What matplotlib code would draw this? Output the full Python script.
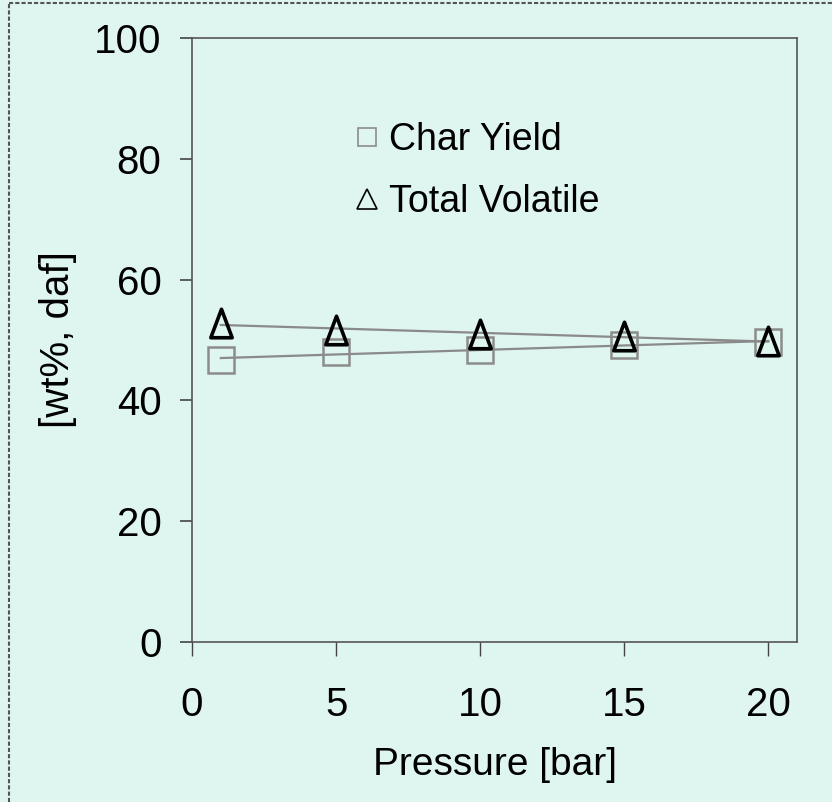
import numpy as np
import matplotlib
matplotlib.use("Agg")
import matplotlib.pyplot as plt
from matplotlib.lines import Line2D
from matplotlib.path import Path

pressure = [1, 5, 10, 15, 20]
char_yield = [46.7, 48.0, 48.3, 49.2, 49.7]
total_volatile = [52.8, 51.6, 51.0, 50.6, 49.8]
series_labels = ["Char Yield", "Total Volatile"]
x_ticks = [0, 5, 10, 15, 20]
y_ticks = [0, 20, 40, 60, 80, 100]

plt.rcParams['font.family'] = ['Liberation Sans', 'DejaVu Sans']

bg = '#dff5f0'
fig = plt.figure(figsize=(8.32, 8.02), dpi=100, facecolor=bg)
ax = fig.add_axes([0.2308, 0.1995, 0.7272, 0.7531])
ax.set_facecolor(bg)

tri = Path([(0, 1), (-0.75, -1), (0.75, -1), (0, 1)],
           [Path.MOVETO, Path.LINETO, Path.LINETO, Path.CLOSEPOLY])

# trend lines
for ys in (char_yield, total_volatile):
    k, b = np.polyfit(pressure, ys, 1)
    xs = np.array([pressure[0], pressure[-1]])
    ax.plot(xs, k * xs + b, color='#8a8a8a', lw=1.6, zorder=2)

ax.plot(pressure, char_yield, ls='none', marker='s', ms=18.5, mfc='none',
        mec='#8c8c8c', mew=1.8, zorder=3)
ax.plot(pressure, total_volatile, ls='none', marker=tri, ms=20.5, mfc='none',
        mec='black', mew=2.6, zorder=4)

ax.set_xlim(0, 21)
ax.set_ylim(0, 100)
ax.set_xticks(x_ticks)
ax.set_yticks(y_ticks)
for s in ax.spines.values():
    s.set_color('#555555')
    s.set_linewidth(1.2)
ax.tick_params(axis='y', direction='out', length=9, width=1.2, color='#444444',
               labelsize=29, pad=13)
ax.tick_params(axis='x', direction='out', length=10, width=1.0, color='#444444',
               labelsize=29, pad=22)
ax.set_xlabel('Pressure [bar]', fontsize=28, labelpad=16)
ax.set_ylabel('[wt%, daf]', fontsize=29)
ax.yaxis.set_label_coords(-0.19, 0.5)

handles = [
    Line2D([], [], ls='none', marker='s', ms=13, mfc='none', mec='#8c8c8c', mew=1.2),
    Line2D([], [], ls='none', marker='^', ms=14, mfc='none', mec='black', mew=1.2),
]
ax.legend(handles, series_labels, loc='upper left', bbox_to_anchor=(0.245, 0.885),
          frameon=False, fontsize=27, handlelength=0.6, handletextpad=0.3,
          labelspacing=0.68, borderaxespad=0)

# outer border (left and top)
fig.add_artist(Line2D([9 / 832, 9 / 832], [0, 1 - 3 / 802], transform=fig.transFigure,
                      color='#555555', lw=1.5, ls=(0, (2, 1))))
fig.add_artist(Line2D([9 / 832, 1], [1 - 3 / 802, 1 - 3 / 802], transform=fig.transFigure,
                      color='#555555', lw=1.5, ls=(0, (2, 1))))

fig.savefig('out.png', dpi=100, facecolor=bg)
